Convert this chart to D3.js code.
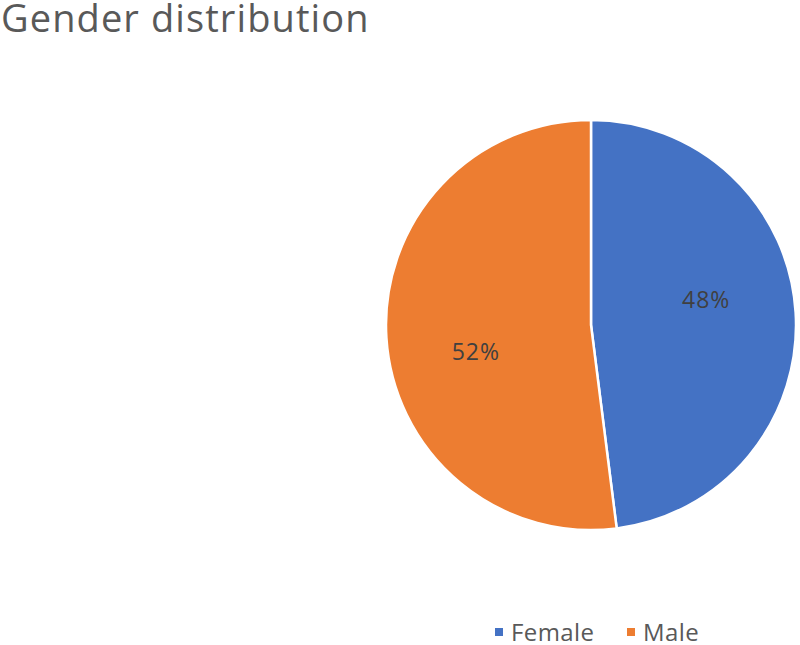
<!DOCTYPE html>
<html>
<head>
<meta charset="utf-8">
<script src="https://cdn.jsdelivr.net/npm/d3@7"></script>
<style>
  body { margin: 0; background: #fff; }
  svg { display: block; }
</style>
</head>
<body>
<script>
var categories = ["Female", "Male"];
var shares = [48, 52];
var colors = ["#4472C4", "#ED7D31"];

var w = 800, h = 645;
var cx = 591, cy = 325, r = 205;
var font = "'Open Sans', 'Noto Sans', sans-serif";

var svg = d3.select("body").append("svg")
  .attr("width", w)
  .attr("height", h);

// title
svg.append("text")
  .attr("x", 1)
  .attr("y", 32)
  .attr("font-family", font)
  .attr("font-size", "38px")
  .attr("letter-spacing", "1.1px")
  .attr("fill", "#595959")
  .text("Gender distribution");

var data = categories.map(function (c, i) {
  return { name: c, value: shares[i], color: colors[i] };
});

var pie = d3.pie().sort(null).value(function (d) { return d.value; });
var arc = d3.arc().innerRadius(0).outerRadius(r);

var g = svg.append("g")
  .attr("transform", "translate(" + cx + "," + cy + ")");

var slices = pie(data);

g.selectAll("path")
  .data(slices)
  .enter()
  .append("path")
  .attr("d", arc)
  .attr("fill", function (d) { return d.data.color; })
  .attr("stroke", "#fff")
  .attr("stroke-width", 2.5);

// labels, nudged a bit anticlockwise like Excel places them
var labelR = 118, nudge = -9 * Math.PI / 180;
g.selectAll("text.lbl")
  .data(slices)
  .enter()
  .append("text")
  .attr("class", "lbl")
  .attr("x", function (d) {
    var a = (d.startAngle + d.endAngle) / 2 + nudge;
    return labelR * Math.sin(a);
  })
  .attr("y", function (d) {
    var a = (d.startAngle + d.endAngle) / 2 + nudge;
    return -labelR * Math.cos(a);
  })
  .attr("text-anchor", "middle")
  .attr("dominant-baseline", "central")
  .attr("font-family", font)
  .attr("font-size", "23px")
  .attr("letter-spacing", "1px")
  .attr("fill", "#404040")
  .text(function (d) { return d.data.value + "%"; });

// legend
var legend = svg.append("g")
  .attr("transform", "translate(495,632)");

var legendX = d3.scaleOrdinal().domain(categories).range([0, 132]);

var items = legend.selectAll("g")
  .data(data)
  .enter()
  .append("g")
  .attr("transform", function (d) { return "translate(" + legendX(d.name) + ",0)"; });

items.append("rect")
  .attr("x", 0)
  .attr("y", -4)
  .attr("width", 8)
  .attr("height", 8)
  .attr("fill", function (d) { return d.color; });

items.append("text")
  .attr("x", 16)
  .attr("y", 9)
  .attr("font-family", font)
  .attr("font-size", "24px")
  .attr("letter-spacing", "0.4px")
  .attr("fill", "#595959")
  .text(function (d) { return d.name; });
</script>
</body>
</html>
